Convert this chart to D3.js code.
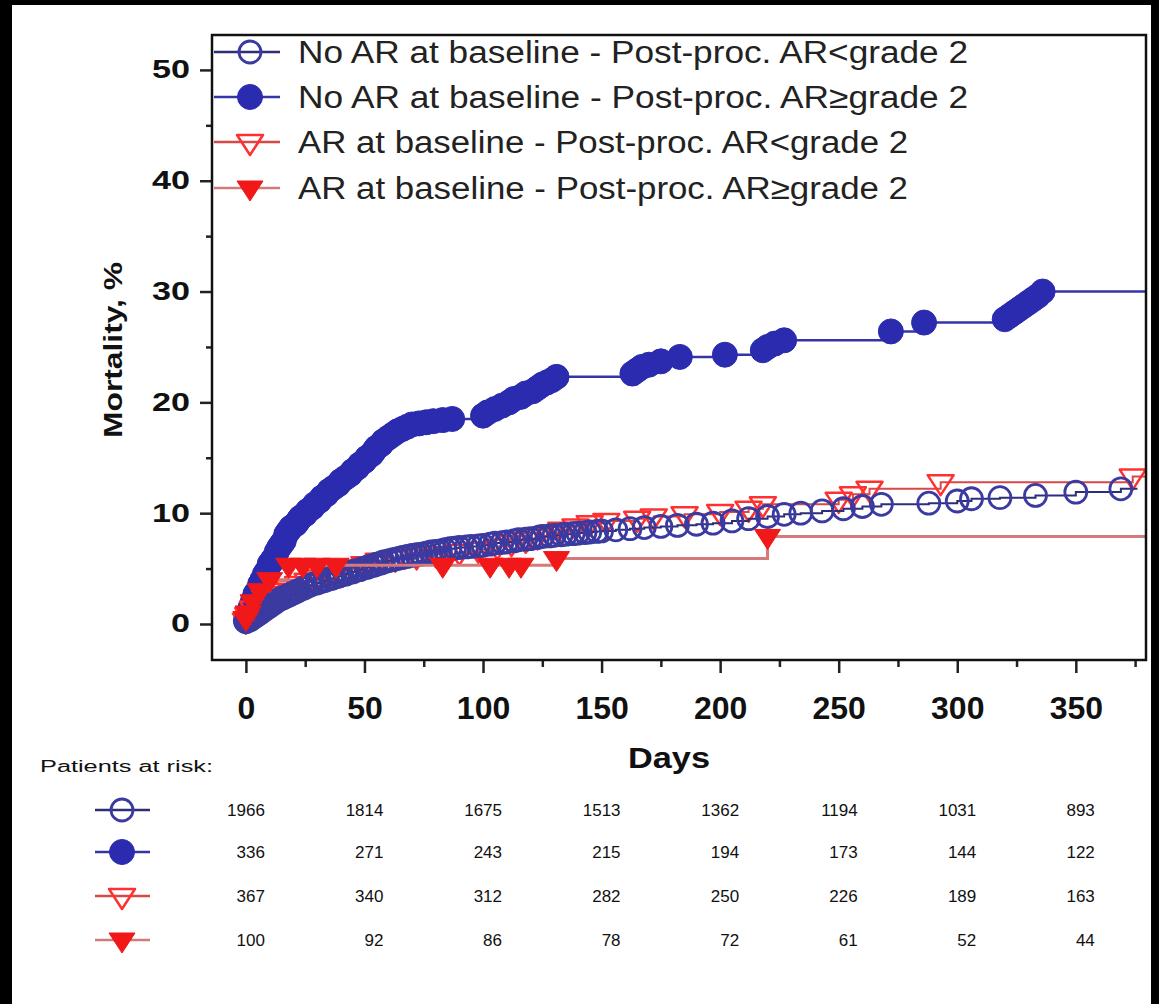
<!DOCTYPE html>
<meta charset="utf-8">
<html>
<head>
<script src="https://d3js.org/d3.v7.min.js"></script>
<style>
  html, body { margin: 0; padding: 0; background: #fff; overflow: hidden; }
  svg { display: block; }
  svg text { font-family: "Liberation Sans", Arial, sans-serif; }
</style>
</head>
<body>
<div id="chart"></div>
<script>
// Kaplan-Meier curves: [day, mortality %]
const noArLow = [[0,0.2],[1,0.3],[2,0.4],[3,0.6],[4,0.7],[5,0.9],[6,1.0],[7,1.2],[8,1.3],[9,1.5],[10,1.6],[11,1.8],[12,1.9],[13,2.1],[14,2.2],[15,2.3],[16,2.4],[17,2.5],[18,2.6],[19,2.7],[20,2.8],[21,2.9],[22,3.0],[24,3.2],[25,3.3],[27,3.5],[28,3.6],[30,3.7],[31,3.8],[33,3.9],[34,4.0],[36,4.1],[37,4.2],[39,4.3],[40,4.4],[42,4.5],[43,4.6],[45,4.7],[46,4.8],[48,4.9],[49,5.0],[51,5.1],[52,5.2],[54,5.3],[55,5.4],[57,5.5],[58,5.6],[60,5.7],[62,5.8],[64,5.9],[66,6.0],[68,6.1],[70,6.2],[72,6.25],[74,6.3],[76,6.4],[78,6.5],[80,6.55],[82,6.6],[84,6.7],[86,6.8],[88,6.85],[90,6.9],[93,6.95],[95,7.0],[98,7.05],[100,7.1],[103,7.2],[105,7.3],[108,7.35],[110,7.4],[113,7.5],[115,7.6],[118,7.65],[120,7.7],[123,7.8],[125,7.9],[128,7.95],[130,8.0],[133,8.05],[135,8.1],[138,8.15],[140,8.2],[143,8.25],[145,8.3],[148,8.35],[150,8.4],[156,8.5],[162,8.6],[168,8.7],[175,8.8],[182,8.9],[190,9.0],[197,9.1],[205,9.3],[212,9.5],[220,9.7],[227,9.9],[234,10.0],[243,10.2],[252,10.4],[260,10.6],[268,10.8],[288,10.9],[300,11.1],[306,11.3],[318,11.4],[333,11.6],[350,11.9],[369,12.2]];
const noArHigh = [[0,0.3],[1,1.0],[2,1.5],[3,2.1],[4,2.7],[5,3.0],[6,3.6],[7,4.0],[8,4.5],[9,4.8],[10,5.4],[11,5.7],[12,6.0],[13,6.5],[14,6.9],[15,7.2],[16,7.5],[17,8.1],[18,8.4],[19,8.7],[21,9.0],[22,9.3],[23,9.6],[25,9.9],[26,10.2],[28,10.5],[29,10.8],[31,11.1],[32,11.4],[34,11.7],[35,12.0],[37,12.3],[39,12.6],[40,12.9],[42,13.2],[44,13.5],[45,13.8],[47,14.1],[48,14.4],[50,14.7],[51,15.0],[53,15.3],[54,15.6],[55,15.9],[57,16.2],[58,16.5],[60,16.8],[62,17.1],[64,17.4],[66,17.6],[68,17.8],[70,18.0],[73,18.1],[76,18.2],[79,18.3],[83,18.4],[87,18.5],[100,18.8],[102,19.1],[105,19.4],[108,19.7],[111,20.0],[113,20.3],[116,20.5],[118,20.8],[121,21.0],[123,21.3],[125,21.6],[127,21.8],[129,22.0],[131,22.3],[163,22.6],[165,22.9],[167,23.2],[170,23.4],[175,23.7],[183,24.1],[202,24.3],[218,24.7],[220,25.0],[223,25.3],[227,25.6],[272,26.4],[286,27.2],[320,27.5],[322,27.8],[324,28.1],[326,28.4],[328,28.7],[330,29.0],[332,29.3],[334,29.6],[336,30.0]];
const arLow = [[0,0.3],[1,0.8],[3,1.4],[5,1.9],[8,2.4],[11,2.7],[14,3.0],[18,3.3],[22,3.6],[26,3.9],[30,4.2],[35,4.5],[40,4.8],[45,5.1],[50,5.4],[56,5.7],[63,5.9],[72,6.1],[80,6.3],[90,6.5],[98,6.7],[106,7.0],[112,7.3],[118,7.6],[123,7.9],[128,8.2],[133,8.5],[139,8.8],[145,9.1],[152,9.3],[165,9.5],[172,9.7],[185,9.9],[200,10.1],[212,10.4],[218,10.8],[250,11.2],[256,11.7],[263,12.2],[293,12.8],[374,13.3]];
const arHigh = [[0,0.5],[1,1.0],[3,2.0],[6,3.0],[10,4.0],[18,5.3],[24,5.3],[30,5.3],[38,5.3],[83,5.3],[103,5.3],[111,5.3],[116,5.3],[131,5.9],[220,7.9]];

// last day each step line is carried to
const curveEnds = [376, 379.6, 379.6, 379.6];

const legendLabels = [
  "No AR at baseline - Post-proc. AR<grade 2",
  "No AR at baseline - Post-proc. AR\u2265grade 2",
  "AR at baseline - Post-proc. AR<grade 2",
  "AR at baseline - Post-proc. AR\u2265grade 2"
];

const xTicks = [0, 50, 100, 150, 200, 250, 300, 350];
const xMinor = [25, 75, 125, 175, 225, 275, 325, 375];
const yTicks = [0, 10, 20, 30, 40, 50];
const yMinor = [5, 15, 25, 35, 45];

const riskDays = [0, 50, 100, 150, 200, 250, 300, 350];
const riskNoArLow = [1966, 1814, 1675, 1513, 1362, 1194, 1031, 893];
const riskNoArHigh = [336, 271, 243, 215, 194, 173, 144, 122];
const riskArLow = [367, 340, 312, 282, 250, 226, 189, 163];
const riskArHigh = [100, 92, 86, 78, 72, 61, 52, 44];

const width = 1159, height = 1004;
const box = {left: 212, right: 1146, top: 35, bottom: 660};

const svg = d3.select("#chart").append("svg")
    .attr("width", width).attr("height", height);

svg.append("rect").attr("width", width).attr("height", height).attr("fill", "#fff");
// black scan edges
svg.append("rect").attr("x", 0).attr("y", 0).attr("width", 12).attr("height", height).attr("fill", "#000");
svg.append("rect").attr("x", 0).attr("y", 0).attr("width", width).attr("height", 5).attr("fill", "#000");
svg.append("rect").attr("x", 1151).attr("y", 0).attr("width", 8).attr("height", height).attr("fill", "#000");

const x = d3.scaleLinear().domain([-14.3, 379.6]).range([box.left, box.right]);
const y = d3.scaleLinear().domain([-3.25, 53.15]).range([box.bottom, box.top]);

// styles per series
const styles = [
  {data: noArLow,  line: "#2e2e78", lw: 2,   kind: "circle", fill: "none",    stroke: "#3a3aa0"},
  {data: noArHigh, line: "#3434a8", lw: 2.5, kind: "circle", fill: "#2b2bb0", stroke: "#2b2bb0"},
  {data: arLow,    line: "#d84848", lw: 2,   kind: "tri",    fill: "none",    stroke: "#ff3030"},
  {data: arHigh,   line: "#d47a7a", lw: 3,   kind: "tri",    fill: "#f01818", stroke: "#f01818"}
];
const triPath = "M-13,-7L13,-7L0,13Z";

function addMarker(sel, s) {
  if (s.kind === "circle") {
    sel.append("circle").attr("r", s.fill === "none" ? 11 : 12.5)
      .attr("fill", s.fill).attr("stroke", s.stroke)
      .attr("stroke-width", s.fill === "none" ? 2.8 : 1);
  } else {
    sel.append("path").attr("d", triPath)
      .attr("fill", s.fill).attr("stroke", s.stroke)
      .attr("stroke-width", s.fill === "none" ? 2.5 : 1)
      .attr("stroke-linejoin", "round");
  }
}

const stepLine = d3.line()
    .x(d => x(d[0])).y(d => y(d[1]))
    .curve(d3.curveStepAfter);

const plotG = svg.append("g");
// drawing order, so red sits over the blue near the origin
[1, 2, 0, 3].forEach(i => {
  const s = styles[i];
  const last = s.data[s.data.length - 1];
  const pts = [[0, 0]].concat(s.data, [[curveEnds[i], last[1]]]);
  plotG.append("path").datum(pts)
    .attr("d", stepLine)
    .attr("fill", "none")
    .attr("stroke", s.line)
    .attr("stroke-width", s.lw);
  plotG.append("g").selectAll("g")
    .data(s.data).enter().append("g")
    .attr("transform", d => `translate(${x(d[0])},${y(d[1])})`)
    .each(function() { addMarker(d3.select(this), s); });
});

// axes
const yAxis = svg.append("g").attr("transform", `translate(${box.left},0)`)
    .call(d3.axisLeft(y).tickValues(yTicks).tickSize(12).tickPadding(10));
svg.append("g").attr("transform", `translate(${box.left},0)`)
    .call(d3.axisLeft(y).tickValues(yMinor).tickSize(6).tickFormat(""));
const xAxis = svg.append("g").attr("transform", `translate(0,${box.bottom})`)
    .call(d3.axisBottom(x).tickValues(xTicks).tickSize(13).tickPadding(23));
svg.append("g").attr("transform", `translate(0,${box.bottom})`)
    .call(d3.axisBottom(x).tickValues(xMinor).tickSize(7).tickFormat(""));

svg.selectAll(".domain").remove();
svg.selectAll(".tick line").attr("stroke", "#222").attr("stroke-width", 2.5);

yAxis.selectAll("text")
    .attr("font-size", 25).attr("font-weight", "bold").attr("fill", "#111")
    .attr("font-family", "Liberation Sans, Arial, sans-serif")
    .attr("textLength", d => String(d).length * 19)
    .attr("lengthAdjust", "spacingAndGlyphs");
xAxis.selectAll("text")
    .attr("font-size", 32).attr("font-weight", "bold").attr("fill", "#111")
    .attr("font-family", "Liberation Sans, Arial, sans-serif");

svg.append("rect")
    .attr("x", box.left).attr("y", box.top)
    .attr("width", box.right - box.left).attr("height", box.bottom - box.top)
    .attr("fill", "none").attr("stroke", "#111").attr("stroke-width", 2.5);

svg.append("text")
    .attr("transform", "translate(113,350) rotate(-90)")
    .attr("text-anchor", "middle").attr("dominant-baseline", "central")
    .attr("font-size", 25).attr("font-weight", "bold").attr("fill", "#111")
    .attr("textLength", 176).attr("lengthAdjust", "spacingAndGlyphs")
    .text("Mortality, %");

svg.append("text")
    .attr("x", 669).attr("y", 757)
    .attr("text-anchor", "middle").attr("dominant-baseline", "central")
    .attr("font-size", 30).attr("font-weight", "bold").attr("fill", "#111")
    .attr("textLength", 82).attr("lengthAdjust", "spacingAndGlyphs")
    .text("Days");

// legend in the plot corner
const legendY = [52, 97, 142, 188];
const legendLen = [670, 670, 610, 610];
const legend = svg.append("g").selectAll("g")
    .data(legendLabels).enter().append("g")
    .attr("transform", (d, i) => `translate(0,${legendY[i]})`);
legend.append("line")
    .attr("x1", 214).attr("x2", 280)
    .attr("stroke", (d, i) => styles[i].line).attr("stroke-width", 2.5);
legend.each(function(d, i) {
  addMarker(d3.select(this).append("g").attr("transform", "translate(250,0)"), styles[i]);
});
legend.append("text")
    .attr("x", 298).attr("y", 11)
    .attr("font-size", 31).attr("fill", "#222")
    .attr("textLength", (d, i) => legendLen[i]).attr("lengthAdjust", "spacingAndGlyphs")
    .text(d => d);

// patients at risk table
svg.append("text")
    .attr("x", 40).attr("y", 772)
    .attr("font-size", 16).attr("fill", "#111")
    .attr("textLength", 173).attr("lengthAdjust", "spacingAndGlyphs")
    .text("Patients at risk:");

const riskRows = [riskNoArLow, riskNoArHigh, riskArLow, riskArHigh];
const riskY = [810, 852, 896, 940];
riskRows.forEach((row, i) => {
  const g = svg.append("g").attr("transform", `translate(0,${riskY[i]})`);
  g.append("line").attr("x1", 95).attr("x2", 150)
    .attr("stroke", styles[i].line).attr("stroke-width", 2.5);
  addMarker(g.append("g").attr("transform", "translate(122,0)"), styles[i]);
  g.selectAll("text").data(row).enter().append("text")
    .attr("x", (d, j) => x(riskDays[j]) + 19)
    .attr("y", 6)
    .attr("text-anchor", "end")
    .attr("font-size", 17).attr("fill", "#111")
    .text(d => d);
});
</script>
</body>
</html>
